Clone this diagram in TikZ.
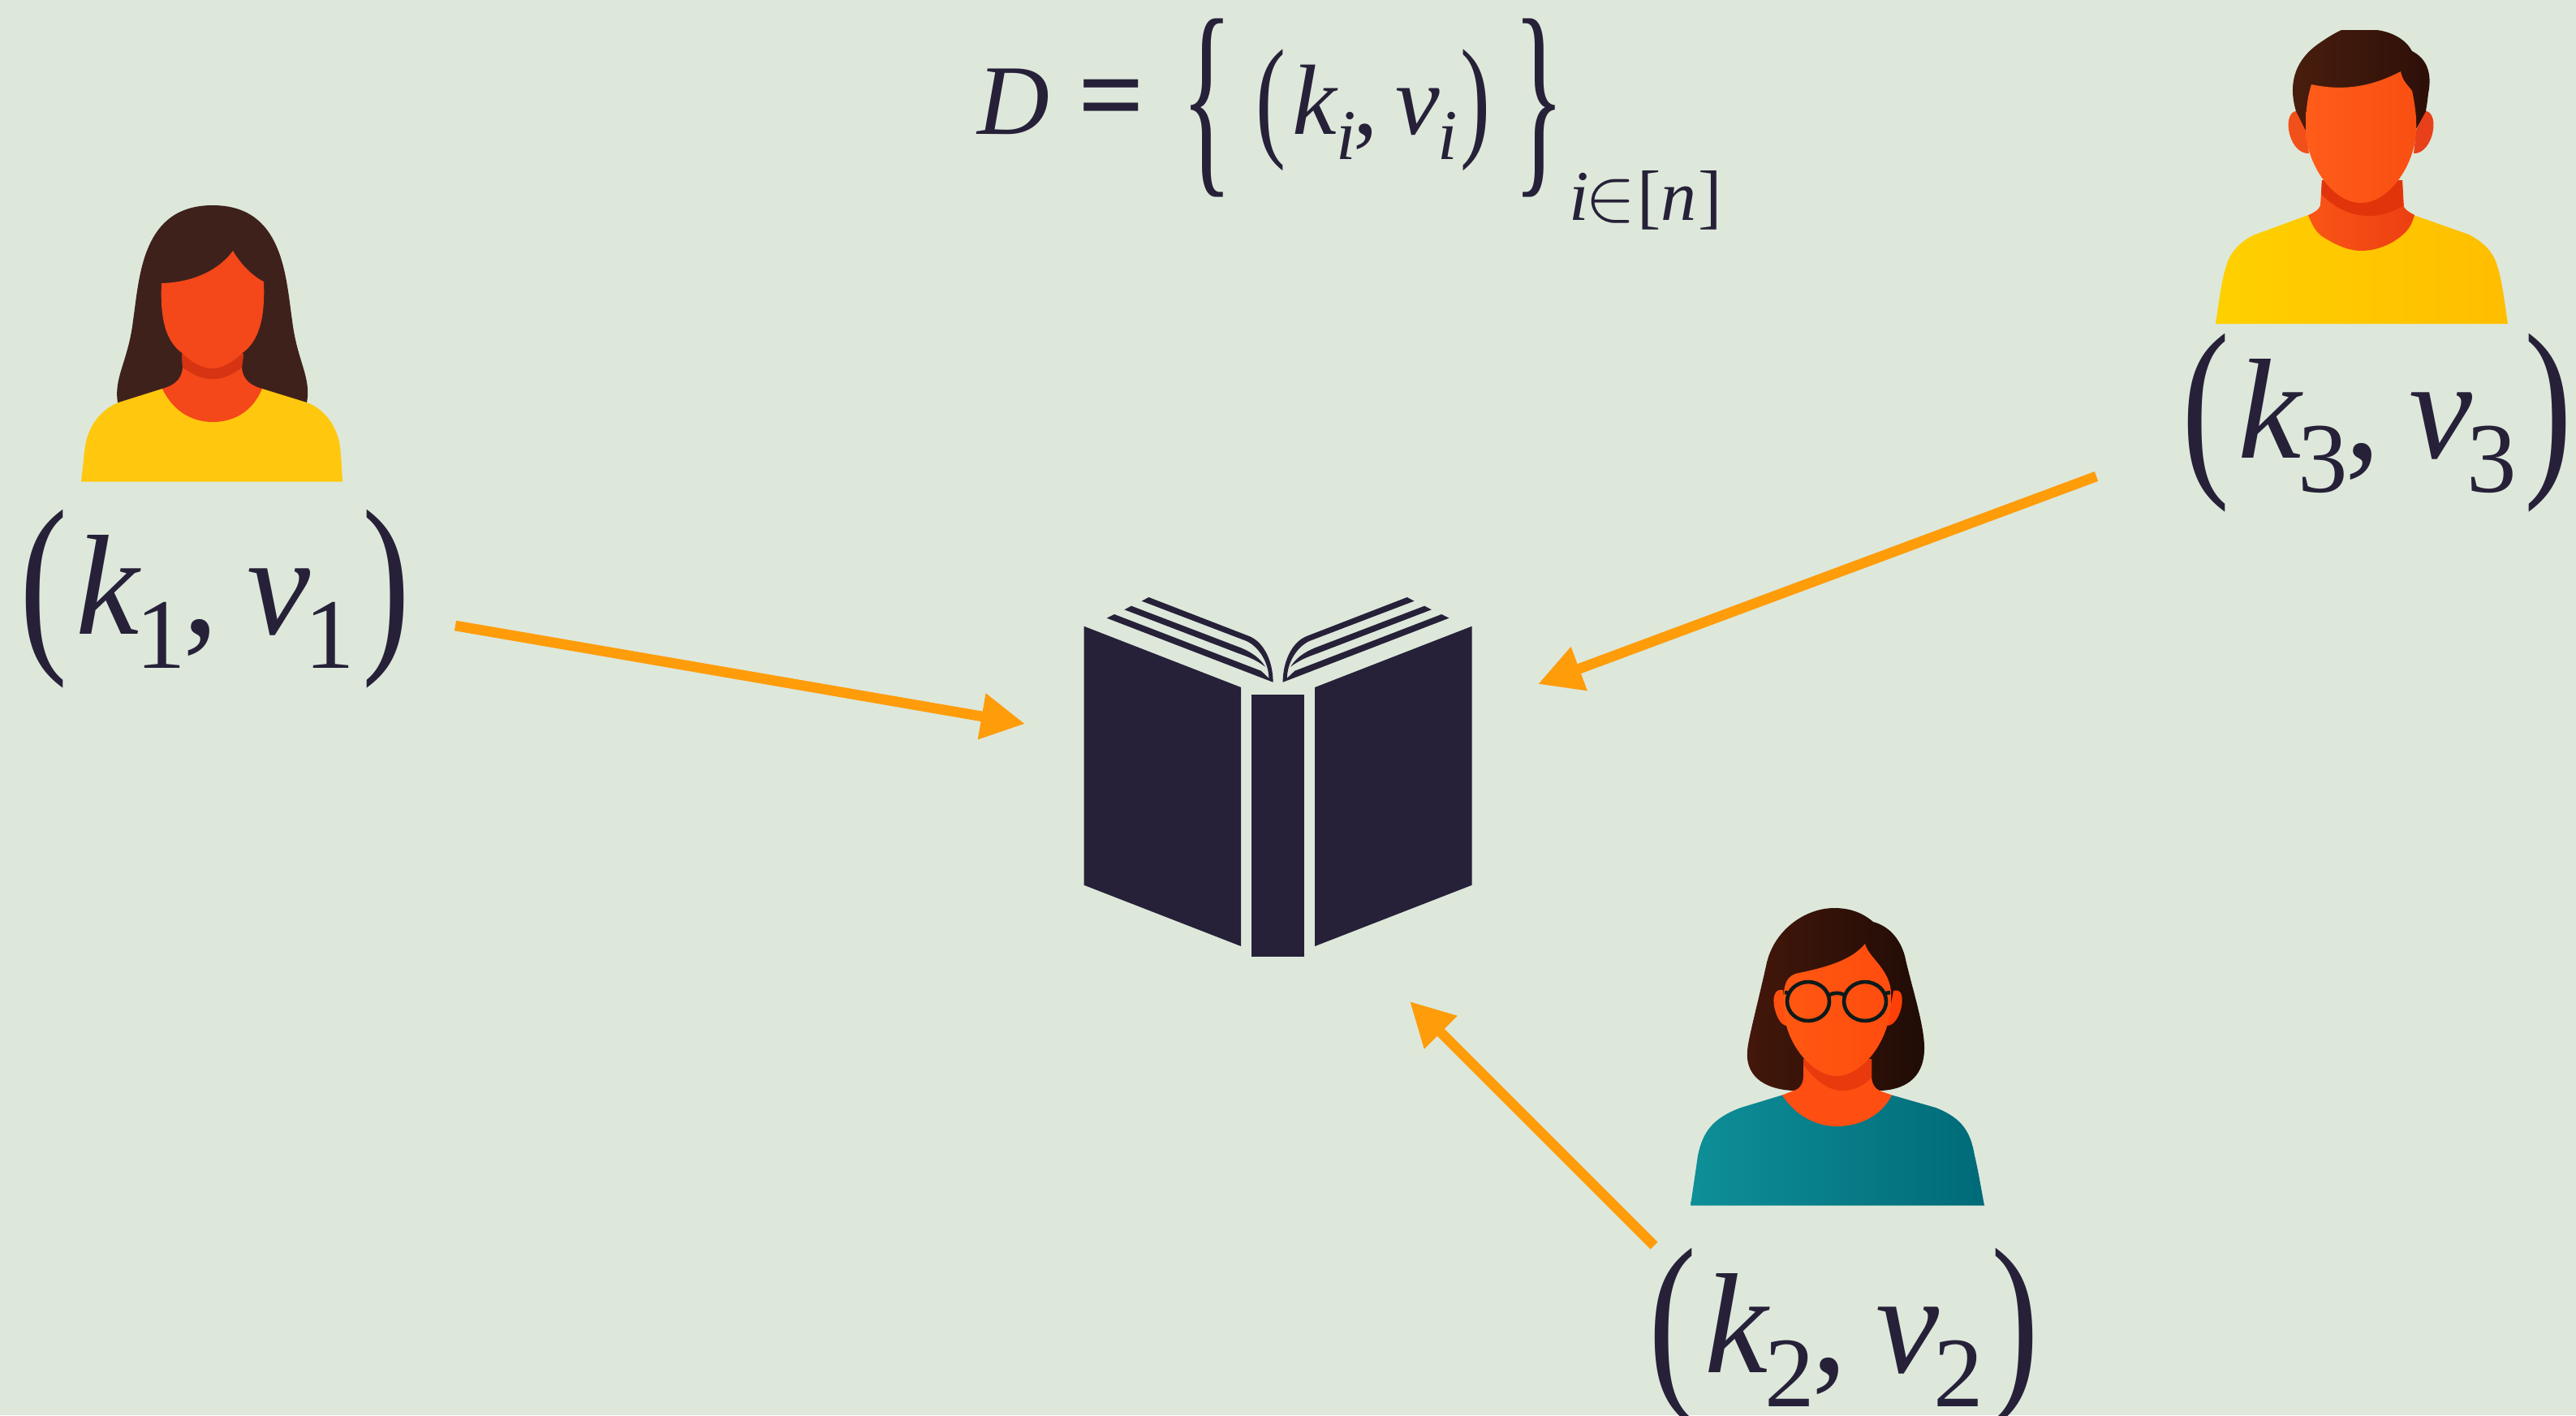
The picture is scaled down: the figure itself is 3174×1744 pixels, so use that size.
\documentclass[tikz,border=0pt]{standalone}
\usepackage{fontspec}
\setmainfont{Liberation Serif}
\usepackage{tikz}
\usetikzlibrary{arrows.meta}

\definecolor{paper}{HTML}{DDE8DB}
\definecolor{ink}{HTML}{262138}
\definecolor{arrowcol}{HTML}{FF9C0A}
% first person
\definecolor{hairone}{HTML}{3F211C}
\definecolor{skinone}{HTML}{F4471A}
\definecolor{shadeone}{HTML}{D63412}
\definecolor{shirtone}{HTML}{FFC80E}
% third person
\definecolor{shirtthreel}{HTML}{FFD000}
\definecolor{shirtthreer}{HTML}{FFBE00}
\definecolor{neckthreel}{HTML}{FA5516}
\definecolor{neckthreer}{HTML}{EC3F12}
\definecolor{shadethree}{HTML}{E2340A}
\definecolor{earthreel}{HTML}{F2501A}
\definecolor{earthreer}{HTML}{E8401A}
\definecolor{hairthreel}{HTML}{4A1E0E}
\definecolor{hairthreer}{HTML}{2D0F08}
\definecolor{facethreel}{HTML}{FF5C1A}
\definecolor{facethreer}{HTML}{F94F12}
% second person
\definecolor{hairtwol}{HTML}{44170A}
\definecolor{hairtwor}{HTML}{200C06}
\definecolor{shirttwol}{HTML}{0E8F98}
\definecolor{shirttwor}{HTML}{006A78}
\definecolor{necktwo}{HTML}{FF4E12}
\definecolor{shadetwo}{HTML}{E83A0C}
\definecolor{eartwol}{HTML}{FF5010}
\definecolor{eartwor}{HTML}{FF3F08}
\definecolor{facetwol}{HTML}{FF5812}
\definecolor{facetwor}{HTML}{FF4C0E}
\definecolor{glassframe}{HTML}{0E1A1A}

\newcommand{\bigdelim}[4]{\raisebox{#3}{\scalebox{#2}[1]{\fontsize{#1}{#1}\selectfont #4}}}
\newcommand{\kvsub}[1]{\raisebox{-12.2pt}{\fontsize{35}{35}\selectfont #1}}
\newcommand{\kvpair}[1]{\kern-2.5pt\bigdelim{69}{0.73}{-4.3pt}{(}\kern2.8pt\textit{k}\kern-2pt\kvsub{#1}\kern-1pt,\kern9.9pt\textit{v}\kern-2pt\kvsub{#1}\kern2.9pt\bigdelim{69}{0.73}{-4.3pt}{)}}
\newcommand{\isub}{\raisebox{-9pt}{\fontsize{25}{25}\selectfont\textit{i}}}

\begin{document}
\begin{tikzpicture}[
		x=0.01cm,
		y=-0.01cm,
		pairlabel/.style={
				anchor=base west,
				inner sep=0pt,
				text=ink,
				font=\fontsize{50}{60}\selectfont
			},
		formula/.style={
				anchor=base west,
				inner sep=0pt,
				text=ink,
				font=\fontsize{35}{40}\selectfont
			},
		bookpart/.style={
				fill=ink
			},
		keyarrow/.style={
				-{Triangle[length=15.4pt,width=15.4pt]},
				draw=arrowcol,
				fill=arrowcol,
				line width=3.6pt
			},
		glasses/.style={
				draw=glassframe,
				line width=1.3pt
			}
	]

	% ================= background =================
	\fill[paper] (0,0) rectangle (3174,1744);
	\useasboundingbox (0,0) rectangle (3174,1744);

	% ================= formula =================
	\node[formula] (dataset) at (1204,165) {\textit{D}\kern10pt{\fontsize{41}{41}\selectfont\textbf{=}}\kern12.8pt\bigdelim{75.6}{0.5}{-12pt}{\{}\kern7.9pt\bigdelim{47}{0.67}{-3pt}{(}\kern2.2pt\textit{k}\kern-0.7pt\isub\kern-0.8pt,\kern5.9pt\textit{v}\kern-0.8pt\isub\kern1.2pt\bigdelim{47}{0.67}{-3pt}{)}\kern8pt\bigdelim{75.6}{0.5}{-12pt}{\}}\kern1.5pt\raisebox{-30.2pt}{\fontsize{25}{25}\selectfont\textit{i}\kern-1.2pt\scalebox{2.65}{\normalsize$\in$}\kern0.3pt[\textit{n}\kern0.5pt]}};

	% ================= book =================
	\foreach \side in {-1,1} {
			\begin{scope}[shift={(1574.6,0)},xscale=\side]
				\fill[bookpart] (239.1,771.7) -- (45.6,847) -- (45.6,1166) -- (239.1,1090.7) -- cycle;
				\fill[bookpart] (210.9,761.7) -- (201.6,757) -- (20.8,826.7) -- (6,840.7) -- cycle;
				\fill[bookpart] (189.2,751.3) -- (180.6,746.7) -- (45.6,798.3) .. controls (31.8,804) and (21.5,811.7) .. (15.6,821.7) .. controls (26.6,813.3) and (37,809.3) .. (49.1,805) -- cycle;
				\fill[bookpart] (167.9,740.7) -- (159.2,736) -- (35.3,784) .. controls (16.3,791.7) and (6,816.7) .. (6,840.7) -- (11.2,836.7) .. controls (11.2,816.7) and (23.2,797.3) .. (38.7,790) -- cycle;
			\end{scope}
		}
	\fill[bookpart] (1542,855.7) rectangle (1606.8,1179);

	% ================= first person =================
	\fill[hairone] (145,496) .. controls (140,465) and (158,445) .. (164,395) .. controls (172,340) and (175,253) .. (262,253) .. controls (349,253) and (352,340) .. (360,395) .. controls (366,445) and (384,465) .. (378,496) -- cycle;
	\fill[shirtone] (100,593.5) .. controls (104,560) and (104,545) .. (110,532) .. controls (118,512) and (135,500) .. (146,496) -- (200,479) -- (323,479) -- (378,496) .. controls (390,500) and (406,512) .. (414,532) .. controls (420,545) and (420,560) .. (422,593.5) -- cycle;
	\fill[skinone] (224,436) -- (225,453) .. controls (224,465) and (218,474) .. (200,479) .. controls (215,510) and (240,520) .. (262,520) .. controls (285,520) and (310,510) .. (323,479) .. controls (305,474) and (299,465) .. (298,453) -- (300,436) -- cycle;
	\fill[shadeone] (224,436) -- (225,453) .. controls (240,463) and (250,467) .. (262,467) .. controls (274,467) and (284,463) .. (298,453) -- (300,436) -- cycle;
	\fill[skinone] (199,349) .. controls (235,348) and (268,335) .. (287,309) .. controls (296,325) and (312,341) .. (325,347) .. controls (327,395) and (318,420) .. (300,434) .. controls (285,448) and (272,454) .. (262,454) .. controls (250,454) and (238,448) .. (223,434) .. controls (205,420) and (197,395) .. (199,349) -- cycle;
	\node[pairlabel] (pairone) at (33,781) {\kvpair{1}};

	% ================= third person =================
	\shade[left color=shirtthreel,right color=shirtthreer] (2730,399) .. controls (2735,365) and (2738,340) .. (2745,322) .. controls (2752,305) and (2765,296) .. (2776,290) -- (2844,265) -- (2974,265) -- (3042,289) .. controls (3055,296) and (3068,305) .. (3075,322) .. controls (3082,340) and (3085,365) .. (3090,399) -- cycle;
	\shade[left color=neckthreel,right color=neckthreer] (2861,222) -- (2859,253) .. controls (2858,258) and (2850,263) .. (2844,265) .. controls (2850,280) and (2855,288) .. (2864,293) .. controls (2880,303) and (2895,309) .. (2909,309) .. controls (2930,309) and (2950,300) .. (2964,286) .. controls (2970,280) and (2973,272) .. (2975,265) .. controls (2970,262) and (2965,260) .. (2962,255) -- (2960,222) -- cycle;
	\fill[shadethree] (2861,222) -- (2860,239) .. controls (2875,255) and (2895,266) .. (2919,266) .. controls (2935,266) and (2950,260) .. (2961,254) -- (2960,222) -- cycle;
	\fill[earthreel] (2832,137) .. controls (2822,135) and (2818,148) .. (2820,160) .. controls (2822,175) and (2832,190) .. (2845,189) -- (2841,161) -- cycle;
	\fill[earthreer] (2986,137) .. controls (2996,135) and (3000,148) .. (2998,160) .. controls (2996,175) and (2986,190) .. (2974,189) -- (2977,161) -- cycle;
	\shade[left color=hairthreel,right color=hairthreer] (2841,161) -- (2829,137) .. controls (2818,100) and (2830,72) .. (2858,53) .. controls (2868,46) and (2878,40) .. (2885,37) -- (2929,37) .. controls (2950,40) and (2965,50) .. (2972,63) .. controls (2990,72) and (2997,90) .. (2992,115) .. controls (2991,125) and (2990,130) .. (2989,137) -- (2977,159) -- cycle;
	\shade[left color=facethreel,right color=facethreer] (2848,104) .. controls (2885,112) and (2920,108) .. (2958,88) .. controls (2960,100) and (2968,106) .. (2972,112) .. controls (2976,130) and (2978,150) .. (2977,159) .. controls (2977,200) and (2945,250) .. (2909,250) .. controls (2873,250) and (2841,200) .. (2841,159) .. controls (2841,135) and (2843,120) .. (2848,104) -- cycle;
	\node[pairlabel] (pairthree) at (2697,564) {\kvpair{3}};

	% ================= second person =================
	\shade[left color=hairtwol,right color=hairtwor] (2210,1344) .. controls (2180,1343) and (2150,1330) .. (2153,1295) .. controls (2154,1280) and (2165,1240) .. (2177,1186) .. controls (2187,1145) and (2225,1119) .. (2260,1119) .. controls (2280,1119) and (2295,1125) .. (2308,1136) .. controls (2330,1142) and (2342,1160) .. (2347,1178) .. controls (2355,1215) and (2372,1265) .. (2371,1294) .. controls (2370,1330) and (2345,1343) .. (2317,1344) -- cycle;
	\shade[left color=shirttwol,right color=shirttwor] (2083,1485.5) .. controls (2086,1465) and (2089,1445) .. (2092,1424) .. controls (2098,1395) and (2110,1378) .. (2145,1365) -- (2196,1349.5) -- (2331,1349.5) -- (2385,1365) .. controls (2418,1378) and (2428,1395) .. (2433,1424) .. controls (2438,1445) and (2441,1465) .. (2445,1485.5) -- cycle;
	\fill[necktwo] (2222,1305) -- (2222,1325) .. controls (2222,1335) and (2218,1342) .. (2210,1344) -- (2196,1349.5) .. controls (2210,1372) and (2235,1388) .. (2263,1388) .. controls (2295,1388) and (2320,1372) .. (2331,1349.5) -- (2317,1344.5) .. controls (2310,1342) and (2306,1335) .. (2306,1325) -- (2306,1305) -- cycle;
	\fill[shadetwo] (2222,1305) -- (2222,1312) .. controls (2235,1330) and (2252,1344) .. (2270,1344) .. controls (2285,1344) and (2296,1338) .. (2306,1328) -- (2306,1305) -- cycle;
	\fill[eartwol] (2197,1220) .. controls (2187,1218) and (2184,1228) .. (2186,1240) .. controls (2188,1250) and (2193,1264) .. (2202,1264) -- cycle;
	\fill[eartwor] (2333,1221) .. controls (2343,1218) and (2345,1228) .. (2343,1240) .. controls (2341,1250) and (2335,1264) .. (2325,1264) -- cycle;
	\shade[left color=facetwol,right color=facetwor] (2198,1236) .. controls (2197,1215) and (2200,1205) .. (2212,1200) .. controls (2245,1193) and (2280,1185) .. (2298,1163) .. controls (2302,1180) and (2330,1195) .. (2330,1225) .. controls (2333,1280) and (2295,1326) .. (2263,1326) .. controls (2231,1326) and (2195,1280) .. (2198,1236) -- cycle;
	\draw[glasses] (2228,1234) ellipse [x radius=26,y radius=24];
	\draw[glasses] (2298,1234) ellipse [x radius=26,y radius=24];
	\draw[glasses] (2254,1226) .. controls (2260,1223) and (2267,1223) .. (2272,1226);
	\draw[glasses] (2199,1223) -- (2205,1224);
	\draw[glasses] (2323,1224) -- (2329,1223);
	\node[pairlabel] (pairtwo) at (2040,1691) {\kvpair{2}};

	% ================= arrows =================
	\coordinate (tailone) at (561,771);
	\coordinate (tipone) at (1263,892);
	\coordinate (tailthree) at (2583,587);
	\coordinate (tipthree) at (1895,843);
	\coordinate (tailtwo) at (2038,1535);
	\coordinate (tiptwo) at (1737,1234);
	\draw[keyarrow] (tailone) -- (tipone);
	\draw[keyarrow] (tailthree) -- (tipthree);
	\draw[keyarrow] (tailtwo) -- (tiptwo);

\end{tikzpicture}
\end{document}
